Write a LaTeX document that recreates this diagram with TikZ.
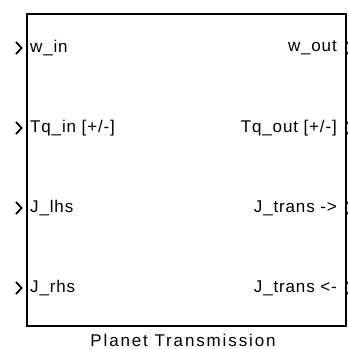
\documentclass[tikz,border=0pt]{standalone}
\usepackage{fontspec}
\setmainfont{Liberation Sans}
\usetikzlibrary{positioning}

\begin{document}
\begin{tikzpicture}[x=1pt, y=-1pt,
  font=\fontsize{17}{19}\selectfont\addfontfeature{LetterSpace=5},
  port/.style={line width=1.8pt, line join=miter},
  lbl/.style={inner sep=0pt}]
  \useasboundingbox (0,0) rectangle (348,349);

  %% Block body
  \node[draw, line width=1.7pt, inner sep=0pt, anchor=north west,
    minimum width=319pt, minimum height=312pt] (blk) at (26,13) {};

  %% Input ports
  \coordinate (in1) at (26,48);
  \coordinate (in2) at (26,128);
  \coordinate (in3) at (26,208);
  \coordinate (in4) at (26,288);
  \foreach \p in {in1,in2,in3,in4}
    \draw[port] ([xshift=-10pt,yshift=6pt]\p) -- ([xshift=-4.5pt]\p)
      -- ([xshift=-10pt,yshift=-6pt]\p);
  \node[lbl, anchor=west, right=4pt of in1] (win) {w\_in};
  \node[lbl, anchor=west, right=4pt of in2] (tqin) {Tq\_in [+/-]};
  \node[lbl, anchor=west, right=4pt of in3] (jlhs) {J\_lhs};
  \node[lbl, anchor=west, right=4pt of in4] (jrhs) {J\_rhs};

  %% Output ports
  \coordinate (out1) at (345,48);
  \coordinate (out2) at (345,128);
  \coordinate (out3) at (345,208);
  \coordinate (out4) at (345,288);
  \foreach \p in {out1,out2,out3,out4}
    \draw[port] ([xshift=2pt,yshift=6pt]\p) -- ([xshift=7.5pt]\p)
      -- ([xshift=2pt,yshift=-6pt]\p);
  \node[lbl, anchor=east, left=8pt of out1] (wout) {w\_out};
  \node[lbl, anchor=east, left=8pt of out2] (tqout) {Tq\_out [+/-]};
  \node[lbl, anchor=east, left=8pt of out3] (jtf) {J\_trans ->};
  \node[lbl, anchor=east, left=8pt of out4] (jtb) {J\_trans <-};

  %% Block name
  \node[lbl, font=\fontsize{17}{19}\selectfont\addfontfeature{LetterSpace=11}]
    (name) at (183,340) {Planet Transmission};
\end{tikzpicture}
\end{document}
